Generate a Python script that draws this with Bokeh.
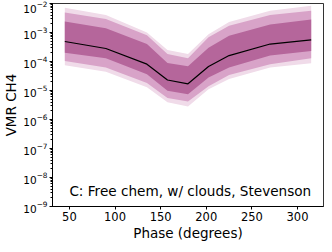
from bokeh.plotting import figure
from bokeh.models import Label, FixedTicker
from bokeh.embed import file_html
from bokeh.resources import INLINE

phase = [45, 90, 135, 157.5, 180, 202.5, 225, 270, 315]
median = [4.9e-4, 2.8e-4, 8.1e-5, 2.3e-5, 1.7e-5, 6.7e-5, 1.6e-4, 4.0e-4, 5.6e-4]
s1_hi = [2.4e-3, 1.4e-3, 4.0e-4, 8.9e-5, 6.8e-5, 3.0e-4, 7.8e-4, 1.9e-3, 2.8e-3]
s1_lo = [2.0e-4, 1.3e-4, 3.6e-5, 9.8e-6, 7.4e-6, 2.8e-5, 6.2e-5, 1.6e-4, 2.3e-4]
s2_hi = [4.9e-3, 2.9e-3, 8.1e-4, 1.8e-4, 1.3e-4, 6.8e-4, 1.7e-3, 4.0e-3, 5.6e-3]
s2_lo = [1.05e-4, 6.2e-5, 1.8e-5, 5.5e-6, 4.2e-6, 1.4e-5, 3.4e-5, 8.1e-5, 1.3e-4]
s3_hi = [7.2e-3, 4.0e-3, 1.0e-3, 2.5e-4, 1.8e-4, 8.7e-4, 2.3e-3, 5.6e-3, 8.3e-3]
s3_lo = [7.4e-5, 4.4e-5, 1.3e-5, 3.9e-6, 2.8e-6, 1.1e-5, 2.5e-5, 6.2e-5, 8.7e-5]
y_ticks = [1e-9, 1e-8, 1e-7, 1e-6, 1e-5, 1e-4, 1e-3, 1e-2]
x_ticks = [50, 100, 150, 200, 250, 300]
label_text = "C: Free chem, w/ clouds, Stevenson"

p = figure(frame_width=271, frame_height=203, output_backend="svg", toolbar_location=None,
           y_axis_type="log", x_range=(31.5, 328.5), y_range=(1e-9, 1e-2),
           min_border_left=44, min_border_right=1, min_border_top=3, min_border_bottom=28)

p.varea(x=phase, y1=s3_lo, y2=s3_hi, fill_color="#f0dbe9")
p.varea(x=phase, y1=s2_lo, y2=s2_hi, fill_color="#d8a3c8")
p.varea(x=phase, y1=s1_lo, y2=s1_hi, fill_color="#b5669b")
p.line(x=phase, y=median, line_color="black", line_width=1.2)

p.add_layout(Label(x=50, y=3.4e-9, text=label_text, text_font="DejaVu Sans",
                   text_font_size="13.6px", text_baseline="middle", text_color="black"))

p.grid.visible = False
p.outline_line_color = "black"
p.outline_line_alpha = 0.8
p.xaxis.ticker = FixedTicker(ticks=x_ticks)
p.yaxis.ticker.num_minor_ticks = 10
p.xaxis.axis_label = "Phase (degrees)"
p.yaxis.axis_label = "VMR CH4"
for ax in (p.xaxis, p.yaxis):
    ax.axis_label_text_font = "DejaVu Sans"
    ax.axis_label_text_font_size = "13.5px"
    ax.axis_label_text_font_style = "normal"
    ax.axis_label_text_color = "black"
    ax.axis_label_standoff = 1
    ax.major_label_text_font = "DejaVu Sans"
    ax.major_label_text_color = "black"
    ax.major_tick_in = 0
    ax.major_tick_out = 3
    ax.minor_tick_in = 0
    ax.minor_tick_out = 2
    ax.axis_line_color = "black"
    ax.major_label_standoff = 2
p.xaxis.major_label_text_font_size = "11.5px"
p.yaxis.major_label_text_font_size = "10.5px"
p.xaxis.minor_tick_line_color = None

open("out.html", "w").write(file_html(p, INLINE))
